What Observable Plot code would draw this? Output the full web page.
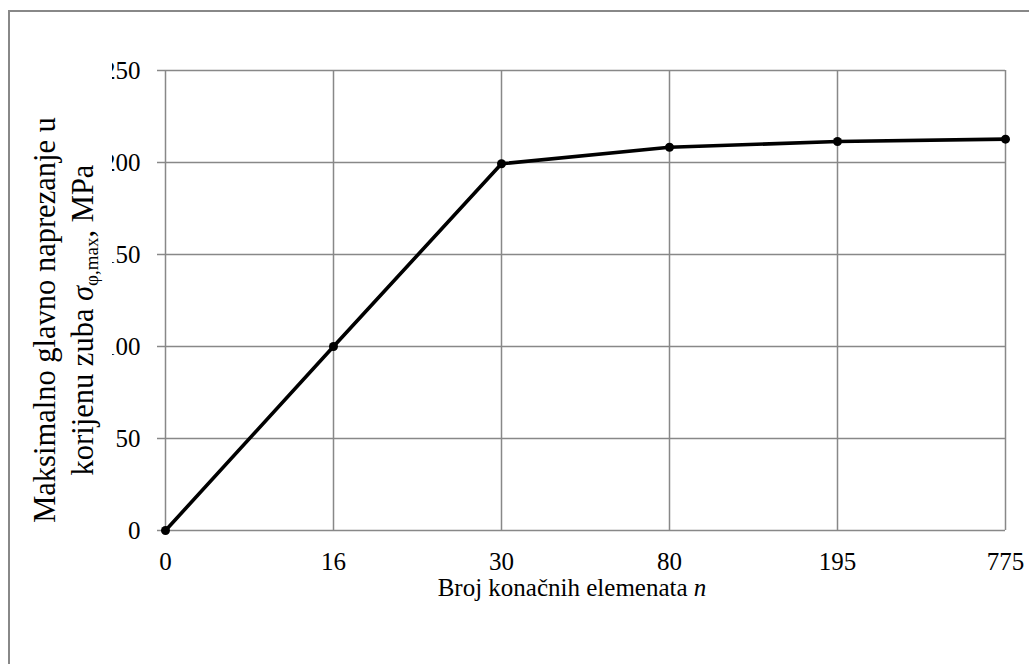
<!DOCTYPE html>
<html><head><meta charset="utf-8">
<script src="https://cdn.jsdelivr.net/npm/d3@7"></script>
<script src="https://cdn.jsdelivr.net/npm/@observablehq/plot@0.6"></script>
<style>
html,body{margin:0;padding:0;background:#fff;overflow:hidden;width:1029px;height:664px;}
#frame{position:absolute;left:8px;top:10px;width:1100px;height:700px;border-left:2px solid #888;border-top:2px solid #888;}
#chart{position:absolute;left:0;top:0;}
</style></head><body>
<div id="frame"></div>
<div id="chart"></div>
<script>
const categories = ["0", "16", "30", "80", "195", "775"];
const stress = [0, 100, 199.3, 208.3, 211.4, 212.7];
const yTicks = [0, 50, 100, 150, 200, 250];
const xTitle = "Broj konačnih elemenata ";
const xTitleVar = "n";
const yTitleLine1 = "Maksimalno glavno naprezanje u";
const yTitleLine2 = "korijenu zuba ";
const sigma = "σ";
const sigmaSub = "φ,max";
const unit = ", MPa";

const data = categories.map((c, i) => ({n: c, s: stress[i]}));
const grid = "#888";
const fam = "'Liberation Serif', 'Times New Roman', serif";

const plot = Plot.plot({
  width: 1029,
  height: 664,
  marginLeft: 164,
  marginRight: 24,
  marginTop: 70,
  marginBottom: 134,
  style: {fontFamily: fam, fontSize: "25px", background: "transparent", color: "#000"},
  x: {type: "point", domain: categories, padding: 0, label: null},
  y: {domain: [0, 250], label: null},
  marks: [
    Plot.gridX(categories, {stroke: grid, strokeOpacity: 1, strokeWidth: 1.5}),
    Plot.gridY(yTicks, {stroke: grid, strokeOpacity: 1, strokeWidth: 1.5}),
    Plot.axisY(yTicks, {tickSize: 7, tickPadding: 17, stroke: grid, strokeWidth: 1.5, fontSize: 25, label: null, fill: "#000"}),
    Plot.axisX(categories, {tickSize: 0, tickPadding: 22, fontSize: 25, label: null, fill: "#000"}),
    Plot.line(data, {x: "n", y: "s", stroke: "#000", strokeWidth: 3.6}),
    Plot.dot(data, {x: "n", y: "s", r: 4.5, fill: "#000", stroke: "none"})
  ]
});
document.getElementById("chart").appendChild(plot);

const svg = d3.select(plot);
// white box of the y-axis title (covers part of the tick labels, as in the reference)
svg.append("rect").attr("x", 11).attr("y", 58).attr("width", 101).attr("height", 490).attr("fill", "#fff");

const yt = svg.append("g").attr("transform", "translate(0,320) rotate(-90)")
  .style("font-family", fam).attr("fill", "#000").attr("text-anchor", "middle");
yt.append("text").attr("x", 0).attr("y", 55).style("font-size", "30.5px").text(yTitleLine1);
const l2 = yt.append("text").attr("x", 0).attr("y", 93).style("font-size", "30.5px");
l2.append("tspan").text(yTitleLine2);
l2.append("tspan").style("font-style", "italic").text(sigma);
l2.append("tspan").style("font-size", "19px").attr("dy", 5).text(sigmaSub);
l2.append("tspan").attr("dy", -5).text(unit);

const xt = svg.append("text").attr("x", 572).attr("y", 596).attr("text-anchor", "middle")
  .style("font-family", fam).style("font-size", "25px").attr("fill", "#000");
xt.append("tspan").text(xTitle);
xt.append("tspan").style("font-style", "italic").text(xTitleVar);
</script>
</body></html>
